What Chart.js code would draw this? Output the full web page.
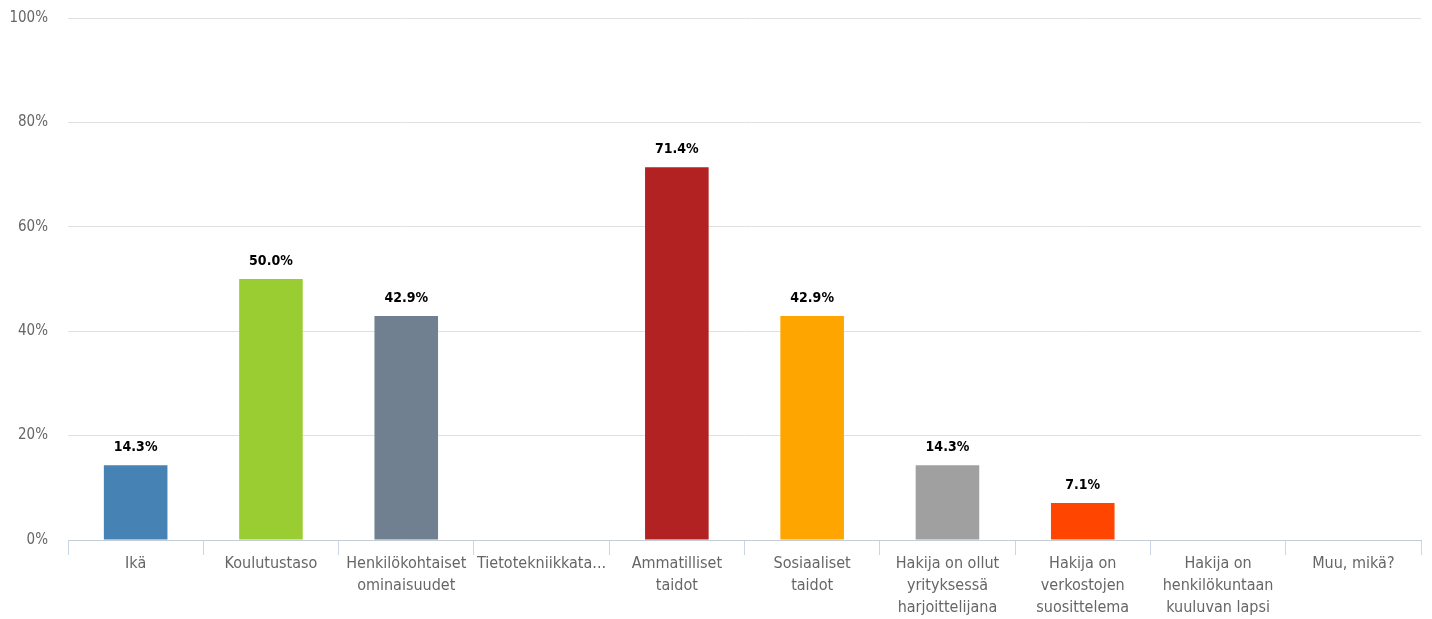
<!DOCTYPE html>
<html>
<head>
<meta charset="utf-8">
<script src="https://cdn.jsdelivr.net/npm/chart.js@4"></script>
<style>
  html, body { margin: 0; padding: 0; background: #fff; }
  #wrap { width: 1432px; height: 619px; }
</style>
</head>
<body>
<div id="wrap"><canvas id="result-chart"></canvas></div>
<script>
const categories = [
    'Ikä',
    'Koulutustaso',
    ['Henkilökohtaiset', 'ominaisuudet'],
    'Tietotekniikkata...',
    ['Ammatilliset', 'taidot'],
    ['Sosiaaliset', 'taidot'],
    ['Hakija on ollut', 'yrityksessä', 'harjoittelijana'],
    ['Hakija on', 'verkostojen', 'suosittelema'],
    ['Hakija on', 'henkilökuntaan', 'kuuluvan lapsi'],
    'Muu, mikä?'
];
const shares = [14.3, 50.0, 42.9, 0, 71.4, 42.9, 14.3, 7.1, 0, 0];
const barColors = ['#4682b4', '#9acd32', '#708090', '#87ceeb', '#b22222', '#ffa500', '#a0a0a0', '#ff4500', '#6a5acd', '#2e8b57'];
const yTicks = [0, 20, 40, 60, 80, 100];

const FONT = '"DejaVu Sans Condensed", "DejaVu Sans", sans-serif';

// value labels above the bars
const valueLabels = {
    id: 'valueLabels',
    afterDatasetsDraw(chart) {
        const ctx = chart.ctx;
        const meta = chart.getDatasetMeta(0);
        ctx.save();
        ctx.font = 'bold 14px ' + FONT;
        ctx.fillStyle = '#000';
        ctx.textAlign = 'center';
        ctx.textBaseline = 'bottom';
        meta.data.forEach(function (bar, i) {
            const v = shares[i];
            if (!v) return;
            ctx.fillText(v.toFixed(1) + '%', bar.x, bar.y - 11);
        });
        ctx.restore();
    }
};

let ctx = document.getElementById('result-chart');
let resultChart = new Chart(ctx, {
    type: 'bar',
    data: {
        labels: categories,
        datasets: [
            {
                data: shares,
                backgroundColor: barColors,
                borderWidth: 0,
                barPercentage: 0.47,
                categoryPercentage: 1.0
            }
        ]
    },
    options: {
        responsive: true,
        maintainAspectRatio: false,
        animation: false,
        plugins: {
            legend: { display: false },
            tooltip: { enabled: false }
        },
        layout: {
            padding: { top: 18, right: 11, left: 0, bottom: 0 }
        },
        scales: {
            x: {
                afterFit: function (s) { s.height = 79; },
                border: { display: true, color: '#c4ccd6', width: 1 },
                grid: {
                    offset: true,
                    drawOnChartArea: false,
                    tickLength: 15,
                    color: '#c8d6e8'
                },
                ticks: {
                    color: '#666',
                    padding: -2,
                    maxRotation: 0,
                    autoSkip: false,
                    font: { family: FONT, size: 16, lineHeight: '22px' }
                }
            },
            y: {
                min: 0,
                max: 100,
                afterFit: function (s) { s.width = 68; },
                afterBuildTicks: function (s) {
                    s.ticks = yTicks.map(function (v) { return { value: v }; });
                },
                border: { display: false },
                grid: {
                    color: '#e0e0e0',
                    tickLength: 20,
                    tickColor: 'rgba(0,0,0,0)'
                },
                ticks: {
                    padding: 0,
                    color: '#666',
                    font: { family: FONT, size: 15, lineHeight: 1 },
                    callback: function (v) { return v + '%'; }
                }
            }
        }
    },
    plugins: [valueLabels]
});
</script>
</body>
</html>
